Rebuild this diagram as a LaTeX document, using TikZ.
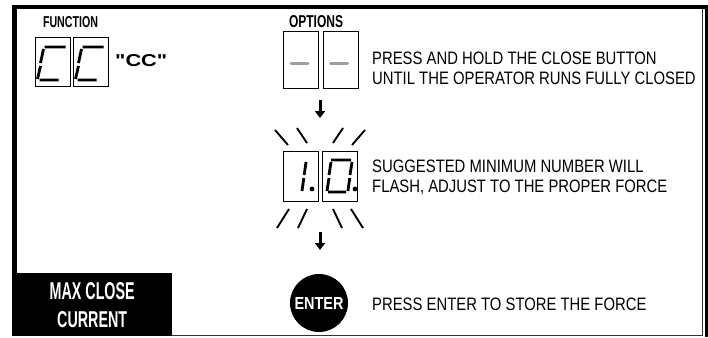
\documentclass[tikz,border=0pt]{standalone}
\usepackage{fontspec}
\setmainfont{Liberation Sans}
\usepackage{graphicx}
\usetikzlibrary{arrows.meta,positioning}
\newcommand{\nrw}[1]{\scalebox{0.825}[1]{#1}}
\newcommand{\cnd}[3]{\resizebox{#1}{#2}{\bfseries #3}}

\begin{document}
\begin{tikzpicture}[x=1pt,y=-1pt,
  lcd/.style={draw,line width=1.3pt,minimum width=35pt,minimum height=50pt,inner sep=0pt,anchor=north west},
  seg/.style={line width=2.8pt},
  bar/.style={line width=3pt,line cap=round,gray!75},
  ray/.style={line width=1.9pt},
  arr/.style={line width=3pt,-{Triangle[length=7pt,width=10pt]}},
  lbl/.style={inner sep=0pt},
  txt/.style={inner sep=0pt,anchor=north west,align=left,font=\fontsize{18}{19.5}\selectfont}]
  \useasboundingbox (0,0) rectangle (708,337);
  % frame
  \fill (12,5) rectangle (708,9);
  \fill (12,5) rectangle (17,273);
  \fill (705,5) rectangle (708,337);
  \draw[line width=1pt,black!80] (702,9) -- (702,335.5) -- (172,335.5);
  \node[fill,minimum width=160pt,minimum height=63pt,inner sep=0pt,anchor=north west,
    text=white,align=center,font=\fontsize{12}{28}\selectfont] (mcc) at (12,273)
    {\cnd{85pt}{17pt}{MAX CLOSE}\\\cnd{70pt}{16pt}{CURRENT}};
  % function
  \node[lbl] (fn) at (70.5,22.5) {\cnd{55pt}{11pt}{FUNCTION}};
  \node[lcd,minimum height=49pt] (f1) at (34.5,37) {};
  \node[lcd,minimum height=49pt] (f2) at (72.5,37) {};
  \foreach \b in {f1,f2}
    \draw[seg,shift={(\b.north west)}] (10,10) -- (31,10) (9,12) -- (6,26) (6,29) -- (3,42) (5,43) -- (24,43);
  \node[lbl,anchor=west] (cc) at (115,61) {\resizebox{52pt}{12pt}{\bfseries\textquotedbl CC\textquotedbl}};
  % options
  \node[lbl] (opt) at (316,22) {\cnd{54pt}{12pt}{OPTIONS}};
  \node[lcd,minimum height=57pt] (o1) at (283,31) {};
  \node[lcd,minimum height=57pt] (o2) at (322.5,31) {};
  \foreach \b in {o1,o2}
    \draw[bar,shift={(\b.north west)}] (8,32) -- (25,32);
  \node[txt] (t1) at (372,52) {\nrw{PRESS AND HOLD THE CLOSE BUTTON}\\\nrw{UNTIL THE OPERATOR RUNS FULLY CLOSED}};
  \coordinate (a1s) at (320,100);
  \coordinate (a1e) at (320,118);
  \draw[arr] (a1s) -- (a1e);
  % flashing number
  \node[lcd] (d1) at (283,151) {};
  \node[lcd] (d2) at (322,151) {};
  \draw[seg,shift={(d1.north west)}] (23,11) -- (21.2,24) (20.8,27) -- (19,40);
  \fill[shift={(d1.north west)}] (29,38) circle[radius=2.4pt];
  \draw[seg,shift={(d2.north west)}] (9,9) -- (29,9) (30,11) -- (28,24) (27.7,27) -- (26,40)
    (6,41) -- (24,41) (7,27) -- (5,40) (9,11) -- (7,24);
  \fill[shift={(d2.north west)}] (33,38) circle[radius=2.4pt];
  \draw[ray] (275,130) -- (288,145) (297,128) -- (307,143) (333,143) -- (343,128) (352,145) -- (365,130);
  \draw[ray] (277,228) -- (289,209) (298,228) -- (307,209) (333,209) -- (342,228) (351,209) -- (363,228);
  \node[txt] (t2) at (372,160) {\nrw{SUGGESTED MINIMUM NUMBER WILL}\\\nrw{FLASH, ADJUST TO THE PROPER FORCE}};
  \coordinate (a2s) at (320,232);
  \coordinate (a2e) at (320,250);
  \draw[arr] (a2s) -- (a2e);
  % enter
  \node[circle,fill,minimum size=58pt,inner sep=0pt,text=white] (ent) at (319,303) {\cnd{49pt}{12pt}{ENTER}};
  \node[txt] (t3) at (372,298) {\nrw{PRESS ENTER TO STORE THE FORCE}};
\end{tikzpicture}
\end{document}
